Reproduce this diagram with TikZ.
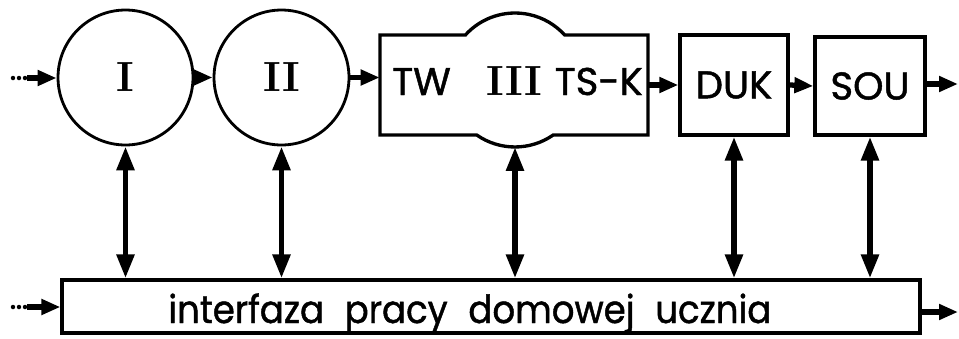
\documentclass[tikz,border=0pt]{standalone}
\usepackage{fontspec}
\newfontfamily\lblfont[FakeBold=1.2]{Poppins}
\usetikzlibrary{arrows.meta}
\begin{document}
\begin{tikzpicture}[x=0.02cm,y=0.02cm,
  lbl/.style={font=\lblfont\fontsize{22}{26}\selectfont},
  numeral/.style={font=\rmfamily\bfseries\fontsize{24}{26}\selectfont},
  stage/.style={circle, draw, line width=1.6pt, minimum size=2.7cm, inner sep=0pt, numeral},
  block/.style={draw, line width=1.9pt, minimum height=2cm, inner sep=0pt, lbl},
  flow/.style={-{Triangle[length=3.8mm,width=3mm]}, line width=3pt},
  link/.style={{Triangle[length=4.8mm,width=3.4mm]}-{Triangle[length=4.8mm,width=3.4mm]}, line width=3.2pt},
  dot/.style={fill, circle, inner sep=0pt, minimum size=0.09cm}]
\useasboundingbox (0,0) rectangle (959,-338);

% stages I and II
\node[stage] (i)  at (125.5,-77.5) {I};
\node[stage] (ii) at (281.5,-77.5) {II};

% stage III: rectangle merged with a circle
\node[minimum width=5.36cm, minimum height=2cm, inner sep=0pt] (t3) at (514,-85) {};
\draw[line width=1.9pt] (380,-35) -- (465.4,-35)
  arc[start angle=137.8, end angle=42.2, radius=67] -- (648,-35) -- (648,-135) -- (553.2,-135)
  arc[start angle=-55.2, end angle=-124.8, radius=67] -- (380,-135) -- cycle;
\node[lbl, anchor=base west] (tw) at (386,-95) {TW};
\node[numeral, anchor=base] (t3lab) at (514,-95) {III};
\node[lbl, anchor=base east] (tsk) at (649,-95) {TS-K};
\coordinate (t3b) at (515,-147);

% blocks DUK and SOU
\node[block, minimum width=2.16cm] (duk) at (734,-85) {DUK};
\node[block, minimum width=2.2cm, minimum height=1.96cm] (sou) at (870,-86) {SOU};

% homework interphase
\node[draw, line width=1.9pt, minimum width=17.16cm, minimum height=1.06cm, inner sep=0pt] (hw) at (491,-306.5) {};
\node[lbl, anchor=base west, inner sep=0pt] (hwlab) at (168,-323)
  {\scalebox{0.92}[1]{interfaza\hspace{0.45cm}pracy\hspace{0.45cm}domowej\hspace{0.45cm}ucznia}};

% inputs
\foreach \yy/\nm in {-78/in1, -307/in2} {
  \node[dot] at (13,\yy) {};
  \node[dot] at (19,\yy) {};
  \node[dot] at (25,\yy) {};
  \coordinate (\nm) at (27,\yy);
}
\draw[flow] (in1) -- (in1 -| i.west);
\draw[flow] (in2) -- (in2 -| hw.west);

% main flow
\draw[flow] (i.east) -- (ii.west);
\draw[flow] (ii.east) -- (ii.east -| t3.west);
\draw[flow] (t3.east) -- (duk.west);
\draw[flow] (duk.east) -- (sou.east -| sou.west);
\coordinate (out1) at (958,-84);
\draw[flow] (sou.east |- out1) -- (out1);
\coordinate (out2) at (958,-312);
\draw[flow] (hw.east |- out2) -- (out2);

% links to the interphase
\draw[link] (i.south) -- (i.south |- hw.north);
\draw[link] (ii.south) -- (ii.south |- hw.north);
\draw[link] (t3b) -- (t3b |- hw.north);
\draw[link] (duk.south) -- (duk.south |- hw.north);
\draw[link] (sou.south) -- (sou.south |- hw.north);
\end{tikzpicture}
\end{document}
